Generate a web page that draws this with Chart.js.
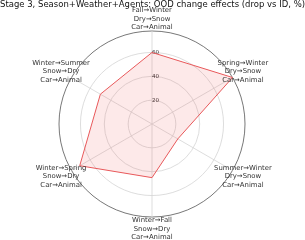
<!DOCTYPE html>
<html>
<head>
<meta charset="utf-8">
<script src="https://cdn.jsdelivr.net/npm/chart.js@4"></script>
<style>
  html, body { margin: 0; padding: 0; background: #fff; }
  #wrap { width: 305px; height: 240px; }
</style>
</head>
<body>
<div id="wrap"><canvas id="graf-radar"></canvas></div>
<script>
const categorias = [
  ["Fall\u2192Winter", "Dry\u2192Snow", "Car\u2192Animal"],
  ["Spring\u2192Winter", "Dry\u2192Snow", "Car\u2192Animal"],
  ["Summer\u2192Winter", "Dry\u2192Snow", "Car\u2192Animal"],
  ["Winter\u2192Fall", "Snow\u2192Dry", "Car\u2192Animal"],
  ["Winter\u2192Spring", "Snow\u2192Dry", "Car\u2192Animal"],
  ["Winter\u2192Summer", "Snow\u2192Dry", "Car\u2192Animal"]
];
const quedas = [60, 78, 25, 45, 70, 50];
const ticksRotulados = [20, 40, 60];
const escalaMax = 78;

const fonteRotulo = { family: "DejaVu Sans", size: 6.9, linha: 8.4 };

// rótulos centrados, um pouco fora do círculo externo (como no matplotlib)
const rotulosCentrados = {
  id: "rotulosCentrados",
  afterDraw(chart) {
    const r = chart.scales.r;
    const ctx = chart.ctx;
    ctx.save();
    ctx.font = fonteRotulo.size + "px " + fonteRotulo.family;
    ctx.fillStyle = "#333";
    ctx.textAlign = "center";
    ctx.textBaseline = "middle";
    categorias.forEach((linhas, i) => {
      const p = r.getPointPosition(i, r.drawingArea + 12);
      linhas.forEach((t, j) => {
        ctx.fillText(t, p.x, p.y + (j - (linhas.length - 1) / 2) * fonteRotulo.linha);
      });
    });
    ctx.restore();
  }
};

document.addEventListener("DOMContentLoaded", () => {
  // Radar - efeitos OOD
  new Chart(document.getElementById("graf-radar"), {
    type: "radar",
    data: {
      labels: categorias,
      datasets: [{
        data: quedas,
        borderColor: "#e8585a",
        backgroundColor: "rgba(240,70,70,0.12)",
        borderWidth: 1,
        pointRadius: 0,
        fill: true,
        tension: 0
      }]
    },
    options: {
      responsive: true,
      maintainAspectRatio: false,
      animation: false,
      layout: { padding: { top: 0, bottom: 20 } },
      plugins: {
        legend: { display: false },
        tooltip: { enabled: false },
        title: {
          display: true,
          text: "Stage 3, Season+Weather+Agents: OOD change effects (drop vs ID, %)",
          font: { family: "DejaVu Sans", size: 8.7, weight: "normal" },
          color: "#111",
          padding: { top: 0, bottom: 18 }
        }
      },
      scales: {
        r: {
          min: 0,
          max: escalaMax,
          ticks: {
            stepSize: 20,
            font: { family: "DejaVu Sans", size: 5.5 },
            color: "#333",
            showLabelBackdrop: false,
            backdropPadding: 0,
            callback: (v) => ticksRotulados.includes(v) ? "    " + v : ""
          },
          grid: {
            circular: true,
            color: (ctx) => ctx.tick && ctx.tick.value >= escalaMax ? "#555" : "#d4d4d4",
            lineWidth: 0.8
          },
          angleLines: { color: "#d4d4d4", lineWidth: 0.8 },
          pointLabels: { display: false }
        }
      }
    },
    plugins: [rotulosCentrados]
  });
});
</script>
</body>
</html>
